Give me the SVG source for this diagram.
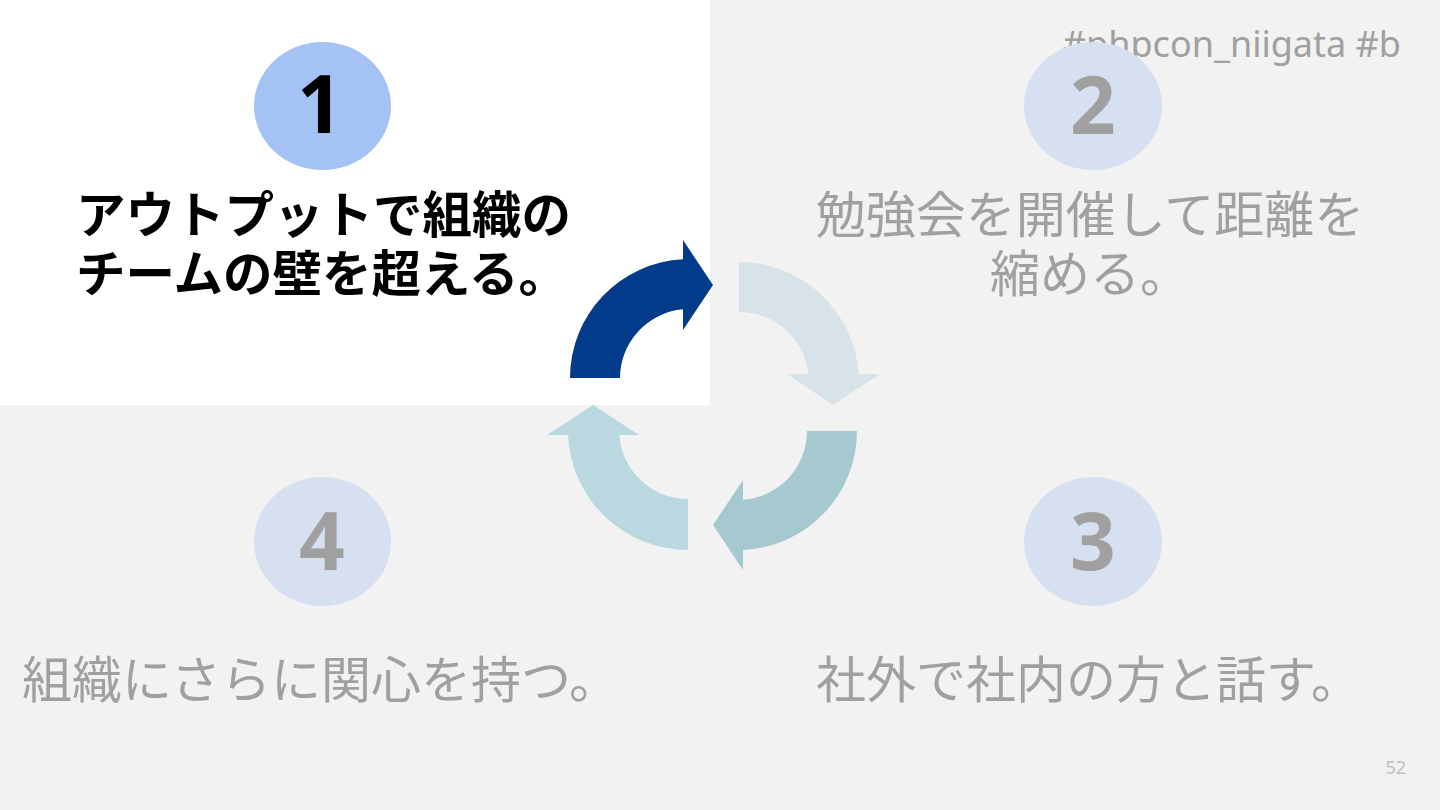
<svg xmlns="http://www.w3.org/2000/svg" width="1440" height="810" viewBox="0 0 1440 810">
<style>
.num{font-family:"Noto Sans","Open Sans",sans-serif;font-weight:700;font-size:80px;text-anchor:middle}
.g{fill:#A0A0A0}
.jp{font-family:"Noto Sans CJK JP","Noto Sans",sans-serif;font-size:50px}
.jpb{font-family:"Noto Sans CJK JP","Noto Sans",sans-serif;font-size:49.5px;font-weight:700;fill:#000}
.pale{fill:#D6E0F1}
</style>
<rect x="0" y="0" width="1440" height="810" fill="#F2F2F2"/>
<rect x="0" y="0" width="710" height="405" fill="#FFFFFF"/>
<text x="1401" y="57" font-family="Noto Sans, Open Sans, sans-serif" font-size="36" fill="#A0A0A0" text-anchor="end">#phpcon_niigata #b</text>
<text x="1406" y="774" font-family="Noto Sans, Open Sans, sans-serif" font-size="18" fill="#BFBFBF" text-anchor="end">52</text>
<g id="connectors">
<path d="M570,378 A119,119 0 0 1 683,259.2 L683,240 L713,285 L683,330 L683,309.3 A69,69 0 0 0 620,378 Z" fill="#023B8A"/>
<path d="M739,262 A120,120 0 0 1 858.7,374 L880,374 L833,405 L787,374 L808.5,374 A70,70 0 0 0 739,312 Z" fill="#D8E3E9"/>
<path d="M857,431 A119,119 0 0 1 743,549.9 L743,570 L713,525 L743,480 L743,499.8 A69,69 0 0 0 807,431 Z" fill="#A6C8CF"/>
<path d="M688,550 A120,120 0 0 1 568.1,435 L547,435 L593,405 L639,435 L619.2,435 A69,69 0 0 0 688,499 Z" fill="#BAD8E0"/>
</g>
<g id="node1">
<ellipse cx="322.5" cy="106" rx="68.5" ry="64" fill="#A4C2F4"/>
<text class="num" x="320" y="133" fill="#000">1</text>
<text class="jpb" x="76" y="233">アウトプットで組織の</text>
<text class="jpb" x="76" y="292">チームの壁を超える。</text>
</g>
<g id="node2">
<ellipse class="pale" cx="1093" cy="106" rx="69" ry="64"/>
<text class="num g" x="1093" y="134">2</text>
<text class="jp g" x="1090" y="233" text-anchor="middle">勉強会を開催して距離を</text>
<text class="jp g" x="1090" y="292" text-anchor="middle">縮める。</text>
</g>
<g id="node3">
<ellipse class="pale" cx="1093" cy="541.5" rx="69" ry="64.5"/>
<text class="num g" x="1093" y="570">3</text>
<text class="jp g" x="816" y="698">社外で社内の方と話す。</text>
</g>
<g id="node4">
<ellipse class="pale" cx="322.5" cy="541.5" rx="68.5" ry="64.5"/>
<text class="num g" x="322" y="570">4</text>
<text class="jp g" x="22" y="698">組織にさらに関心を持つ。</text>
</g>
</svg>
